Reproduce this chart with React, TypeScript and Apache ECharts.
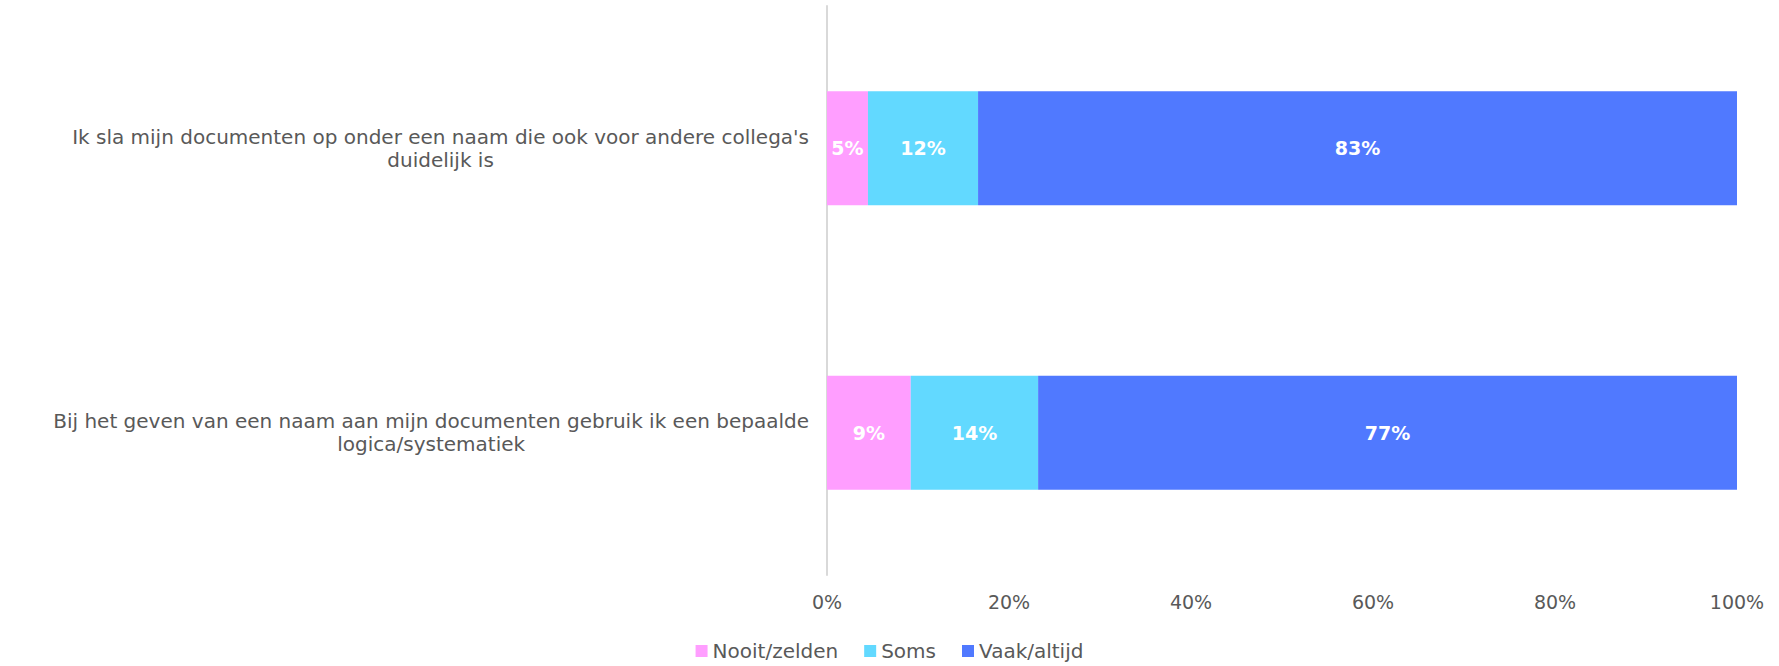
import React, { useEffect, useRef } from "react";
import * as echarts from "echarts";

const categories: string[] = [
  "Ik sla mijn documenten op onder een naam die ook voor andere collega's duidelijk is",
  "Bij het geven van een naam aan mijn documenten gebruik ik een bepaalde logica/systematiek",
];
const categoryLines: string[][] = [
  ["Ik sla mijn documenten op onder een naam die ook voor andere collega's", "duidelijk is"],
  ["Bij het geven van een naam aan mijn documenten gebruik ik een bepaalde", "logica/systematiek"],
];
const seriesNames: string[] = ["Nooit/zelden", "Soms", "Vaak/altijd"];
const nooitZelden: number[] = [4.5, 9.2];
const soms: number[] = [12.1, 14.0];
const vaakAltijd: number[] = [83.4, 76.8];
const xTicks = { min: 0, max: 100, interval: 20 };

const COLORS = ["#FF9EFF", "#62D9FF", "#5079FF"];
const FONT = "'DejaVu Sans', sans-serif";
const TEXT = "#595959";

export default function App() {
  const ref = useRef<HTMLDivElement>(null);
  useEffect(() => {
    if (!ref.current) return;
    const chart = echarts.init(ref.current, null, { renderer: "svg" });
    const values = [nooitZelden, soms, vaakAltijd];
    chart.setOption({
      animation: false,
      textStyle: { fontFamily: FONT, color: TEXT },
      grid: { left: 827, right: 42, top: 6, bottom: 91, containLabel: false },
      xAxis: {
        type: "value",
        min: xTicks.min,
        max: xTicks.max,
        interval: xTicks.interval,
        axisLine: { show: false },
        axisTick: { show: false },
        splitLine: { show: false },
        axisLabel: {
          formatter: "{value}%",
          color: TEXT,
          fontFamily: FONT,
          fontSize: 19,
          margin: 17,
        },
      },
      yAxis: {
        type: "category",
        inverse: true,
        data: categories,
        axisLine: { show: true, lineStyle: { color: "#D9D9D9", width: 2 } },
        axisTick: { show: false },
        axisLabel: {
          margin: 18,
          color: TEXT,
          fontFamily: FONT,
          fontSize: 20,
          lineHeight: 23,
          align: "right",
          formatter: (_v: string, idx: number) =>
            categoryLines[idx].map((l) => `{c|${l}}`).join("\n"),
          rich: {
            c: {
              align: "center",
              color: TEXT,
              fontFamily: FONT,
              fontSize: 20,
              lineHeight: 23,
            },
          },
        },
      },
      legend: {
        bottom: 0,
        left: "center",
        itemWidth: 12,
        itemHeight: 12,
        itemGap: 26,
        icon: "rect",
        textStyle: { color: TEXT, fontFamily: FONT, fontSize: 20 },
        data: seriesNames,
      },
      series: seriesNames.map((name, i) => ({
        name,
        type: "bar",
        stack: "total",
        barWidth: "40%",
        data: values[i],
        itemStyle: { color: COLORS[i] },
        label: {
          show: true,
          position: "inside",
          color: "#FFFFFF",
          fontWeight: "bold",
          fontFamily: FONT,
          fontSize: 19,
          formatter: (p: any) => `${Math.round(p.value)}%`,
        },
      })),
    });
    return () => chart.dispose();
  }, []);
  return (
    <div
      ref={ref}
      style={{ position: "fixed", left: 0, top: 0, width: 1779, height: 666, background: "#fff" }}
    />
  );
}
